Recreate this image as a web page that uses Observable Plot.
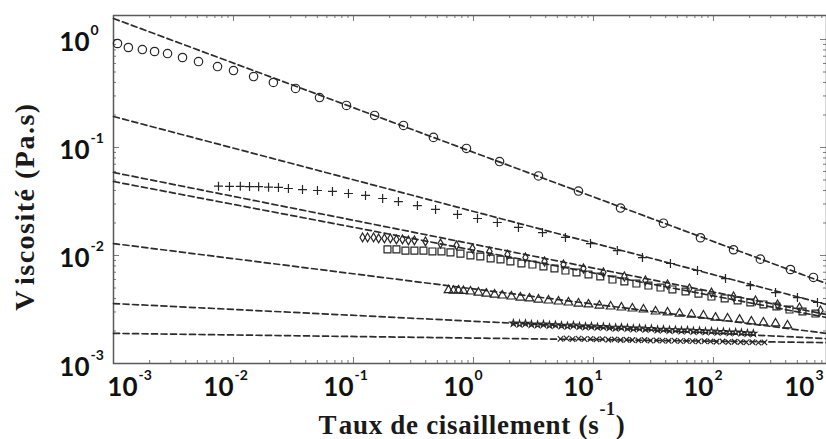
<!DOCTYPE html>
<html>
<head>
<meta charset="utf-8">
<script src="https://cdn.jsdelivr.net/npm/d3@7"></script>
<script src="https://cdn.jsdelivr.net/npm/@observablehq/plot@0.6"></script>
<style>
  html, body { margin: 0; padding: 0; background: #fff; }
</style>
</head>
<body>
<div id="chart"></div>
<script>
// Flow curves: shear rate (1/s) and viscosity (Pa.s) for each sample
const circleRate = [0.00108, 0.00133, 0.00174, 0.0022, 0.00282, 0.00376, 0.00511, 0.00736, 0.01, 0.0147, 0.0215, 0.0329, 0.0521, 0.0874, 0.15, 0.261, 0.464, 0.874, 1.65, 3.48, 7.5, 16.8, 38.3, 77.9, 147, 246, 438, 681];
const circleVisc = [0.918, 0.843, 0.807, 0.774, 0.741, 0.681, 0.625, 0.562, 0.516, 0.454, 0.4, 0.352, 0.29, 0.245, 0.198, 0.16, 0.124, 0.098, 0.0741, 0.0545, 0.0395, 0.0275, 0.0199, 0.0146, 0.0113, 0.00925, 0.00742, 0.00626];

const plusRate = [0.0075, 0.00926, 0.0114, 0.0136, 0.0162, 0.0196, 0.0237, 0.0287, 0.0376, 0.0501, 0.0668, 0.0908, 0.126, 0.175, 0.237, 0.341, 0.483, 0.736, 1.08, 1.58, 2.37, 3.76, 5.84, 9.44, 15.8, 25.6, 43.8, 73.6, 126, 203, 329, 501, 736];
const plusVisc = [0.0438, 0.0436, 0.0437, 0.0435, 0.0434, 0.0429, 0.0427, 0.0417, 0.0408, 0.04, 0.0392, 0.0375, 0.036, 0.0337, 0.0316, 0.029, 0.0267, 0.024, 0.022, 0.0202, 0.0182, 0.0163, 0.0147, 0.0129, 0.0111, 0.00957, 0.00843, 0.00726, 0.00612, 0.00527, 0.00454, 0.00408, 0.00367];

const diamondRate = [0.119, 0.131, 0.147, 0.162, 0.181, 0.203, 0.228, 0.256, 0.287, 0.322, 0.398, 0.531, 0.722, 0.981, 1.36, 1.92, 2.71, 3.91, 5.62, 8.25, 12.1, 18.1, 27.1, 41.4, 63.1, 96.2, 147, 224, 342, 521, 779];
const diamondVisc = [0.0147, 0.0147, 0.0147, 0.0144, 0.0144, 0.0144, 0.0141, 0.0141, 0.0138, 0.0138, 0.0135, 0.0129, 0.0124, 0.0116, 0.0109, 0.0102, 0.00958, 0.0088, 0.00825, 0.00758, 0.00696, 0.00639, 0.00587, 0.00539, 0.00495, 0.00454, 0.00417, 0.00383, 0.00352, 0.0033, 0.0031];

const squareRate = [0.192, 0.228, 0.271, 0.322, 0.383, 0.455, 0.541, 0.643, 0.779, 0.944, 1.14, 1.39, 1.68, 2.03, 2.51, 3.1, 3.83, 4.73, 5.84, 7.22, 9.09, 11.4, 14.4, 18.1, 22.8, 28.7, 36.2, 45.5, 58.5, 75, 96.2, 124, 159, 203, 261, 335, 430, 552, 708];
const squareVisc = [0.0114, 0.0114, 0.0111, 0.0111, 0.0111, 0.0109, 0.0109, 0.0107, 0.0104, 0.01, 0.00979, 0.00938, 0.00918, 0.0088, 0.00843, 0.00825, 0.00791, 0.00758, 0.00726, 0.00696, 0.00667, 0.00639, 0.00599, 0.00575, 0.0055, 0.00527, 0.00505, 0.00485, 0.00464, 0.00444, 0.00417, 0.004, 0.00383, 0.00367, 0.00352, 0.00337, 0.00316, 0.00303, 0.0029];

const triangleRate = [0.619, 0.681, 0.75, 0.825, 0.944, 1.1, 1.28, 1.5, 1.74, 2.07, 2.46, 2.93, 3.48, 4.22, 5.11, 6.19, 7.5, 9.09, 11.2, 13.9, 17.1, 21.1, 26.1, 32.9, 41.4, 52.1, 65.6, 82.5, 104, 131, 165, 207, 261, 329, 414];
const triangleVisc = [0.00478, 0.00472, 0.00476, 0.0047, 0.00464, 0.00454, 0.00444, 0.00435, 0.00426, 0.00417, 0.00408, 0.004, 0.00391, 0.00383, 0.00375, 0.00367, 0.00359, 0.00352, 0.00344, 0.00337, 0.0033, 0.00323, 0.00316, 0.00303, 0.00297, 0.0029, 0.00284, 0.00278, 0.00266, 0.00261, 0.00255, 0.00245, 0.0024, 0.00235, 0.00225];

const starRate = [2.15, 2.42, 2.71, 3.04, 3.42, 3.83, 4.3, 4.82, 5.41, 6.07, 6.81, 7.65, 8.58, 9.62, 10.8, 12.1, 13.6, 15.3, 17.1, 19.2, 21.5, 24.2, 27.1, 30.4, 34.2, 38.3, 43, 48.2, 54.1, 60.7, 68.1, 76.5, 85.8, 96.2, 108, 121, 136, 153, 171, 192, 215];
const starVisc = [0.00236, 0.00233, 0.00235, 0.00231, 0.00229, 0.00231, 0.00227, 0.00228, 0.00225, 0.00223, 0.00226, 0.00222, 0.0022, 0.00221, 0.00218, 0.00219, 0.00216, 0.00214, 0.00216, 0.00213, 0.00211, 0.00212, 0.00209, 0.0021, 0.00206, 0.00207, 0.00204, 0.00205, 0.00202, 0.00203, 0.002, 0.00201, 0.00198, 0.00199, 0.00196, 0.00197, 0.00194, 0.00195, 0.00193, 0.00191, 0.0019];

const crossRate = [5.31, 5.96, 6.68, 7.5, 8.41, 9.44, 10.6, 11.9, 13.3, 15, 16.8, 18.8, 21.1, 23.7, 26.6, 29.9, 33.5, 37.6, 42.2, 47.3, 53.1, 59.6, 66.8, 75, 84.1, 94.4, 106, 119, 133, 150, 168, 188, 211, 237, 266];
const crossVisc = [0.00169, 0.00171, 0.00168, 0.0017, 0.00168, 0.00169, 0.00167, 0.00168, 0.00166, 0.00167, 0.00165, 0.00166, 0.00165, 0.00164, 0.00165, 0.00163, 0.00164, 0.00163, 0.00162, 0.00163, 0.00161, 0.00162, 0.00161, 0.0016, 0.00161, 0.0016, 0.00159, 0.0016, 0.00158, 0.00159, 0.00158, 0.00157, 0.00158, 0.00156, 0.00157];

// Power-law fits: viscosity at both ends of the shear-rate range
const fitRange = [0.001, 875];
const fitStartVisc = [1.565, 0.1936, 0.0587, 0.0484, 0.0129, 0.00359, 0.0019];
const fitEndVisc = [0.0055, 0.00352, 0.00284, 0.00267, 0.0019, 0.0017, 0.00156];

// Axis decades (tick labels are 10 raised to these exponents)
const xExponents = [-3, -2, -1, 0, 1, 2, 3];
const yExponents = [-3, -2, -1, 0];
const yTop = 1.668;

const xTitleParts = ["Taux de cisaillement (s", "-1", ")"];
const yTitle = "Viscosité (Pa.s)";

// ---------------------------------------------------------------
const pairs = (rate, visc) => rate.map((r, i) => ({rate: r, visc: visc[i]}));

const fits = fitStartVisc.flatMap((v, i) => [
  {id: i, rate: fitRange[0], visc: v},
  {id: i, rate: fitRange[1], visc: fitEndVisc[i]}
]);

const xMajor = [];
const xMinor = [];
for (const e of xExponents) {
  const base = 10 ** e;
  if (base <= fitRange[1]) xMajor.push(base);
  for (let k = 2; k <= 9; k++) if (k * base <= fitRange[1]) xMinor.push(k * base);
}
const yMajor = [];
const yMinor = [];
for (const e of yExponents) {
  const base = 10 ** e;
  yMajor.push(base);
  for (let k = 2; k <= 9; k++) if (k * base <= yTop) yMinor.push(k * base);
}

const W = 826, H = 439, ML = 113, MR = 0, MT = 15, MB = 76;
const frameW = W - ML - MR, frameH = H - MT - MB;

const ink = "#262626";
const tickInk = "#7a7a7a";
const labelFont = "Lato, 'Open Sans', sans-serif";
const titleFont = "'Liberation Serif', 'DejaVu Serif', serif";

const markerStyle = {x: "rate", y: "visc", fill: "none", stroke: ink, strokeWidth: 1.2};

// "10" with a raised exponent, anchored on an x tick
function xTickLabel(exps, dx) {
  return [
    Plot.text(exps, {x: e => 10 ** e, text: () => "10", frameAnchor: "bottom", lineAnchor: "bottom",
      textAnchor: "end", dx, dy: 32, fontSize: 26, fontWeight: "bold", fontFamily: labelFont, fill: "#111"}),
    Plot.text(exps, {x: e => 10 ** e, text: e => String(e), frameAnchor: "bottom", lineAnchor: "bottom",
      textAnchor: "start", dx: dx + 1, dy: 16, fontSize: 14, fontWeight: "bold", fontFamily: labelFont, fill: "#111"})
  ];
}

const chart = Plot.plot({
  width: W,
  height: H,
  marginLeft: ML,
  marginRight: MR,
  marginTop: MT,
  marginBottom: MB,
  x: {type: "log", domain: fitRange, axis: null},
  y: {type: "log", domain: [1e-3, yTop], axis: null},
  marks: [
    // inward ticks on all four sides
    Plot.ruleX(xMinor, {x: d => d, insetTop: frameH - 3, stroke: tickInk}),
    Plot.ruleX(xMinor, {x: d => d, insetBottom: frameH - 3, stroke: tickInk}),
    Plot.ruleX(xMajor, {x: d => d, insetTop: frameH - 6, stroke: tickInk}),
    Plot.ruleX(xMajor, {x: d => d, insetBottom: frameH - 6, stroke: tickInk}),
    Plot.ruleY(yMinor, {y: d => d, insetRight: frameW - 3, stroke: tickInk}),
    Plot.ruleY(yMinor, {y: d => d, insetLeft: frameW - 3, stroke: tickInk}),
    Plot.ruleY(yMajor, {y: d => d, insetRight: frameW - 6, stroke: tickInk}),
    Plot.ruleY(yMajor, {y: d => d, insetLeft: frameW - 6, stroke: tickInk}),
    Plot.frame({stroke: "#5a5a5a", strokeWidth: 1.5}),

    // fitted power laws
    Plot.line(fits, {x: "rate", y: "visc", z: "id", stroke: "#2c2c2c", strokeWidth: 1.7, strokeDasharray: "6,3.5"}),

    // measured flow curves
    Plot.dot(pairs(circleRate, circleVisc), {...markerStyle, symbol: "circle", r: 4.2}),
    Plot.dot(pairs(plusRate, plusVisc), {...markerStyle, symbol: "plus", r: 3}),
    Plot.dot(pairs(diamondRate, diamondVisc), {...markerStyle, symbol: "diamond", r: 2.7}),
    Plot.dot(pairs(squareRate, squareVisc), {...markerStyle, symbol: "square", r: 3.9}),
    Plot.dot(pairs(triangleRate, triangleVisc), {...markerStyle, symbol: "triangle", r: 3.2}),
    Plot.dot(pairs(starRate, starVisc), {...markerStyle, symbol: "star", r: 2.1}),
    Plot.dot(pairs(crossRate, crossVisc), {...markerStyle, symbol: "times", r: 2.6}),

    // x tick labels (the outer two are nudged inside the figure)
    ...xTickLabel(xExponents.filter(e => e === -3), 24),
    ...xTickLabel(xExponents.filter(e => e > -3 && e < 3), 0),
    ...xTickLabel(xExponents.filter(e => e === 3), -19),

    // y tick labels
    Plot.text(yExponents, {y: e => 10 ** e, text: () => "10", frameAnchor: "left", lineAnchor: "bottom",
      textAnchor: "end", dx: -24, dy: 12, fontSize: 26, fontWeight: "bold", fontFamily: labelFont, fill: "#111"}),
    Plot.text(yExponents, {y: e => 10 ** e, text: e => String(e), frameAnchor: "left", lineAnchor: "bottom",
      textAnchor: "start", dx: -23, dy: -4, fontSize: 14, fontWeight: "bold", fontFamily: labelFont, fill: "#111"}),

    // axis titles
    Plot.text([xTitleParts.join("")], {frameAnchor: "bottom", lineAnchor: "bottom", textAnchor: "middle",
      dy: 70, dx: 2, fontSize: 27, fontWeight: "bold", fontFamily: titleFont, fill: "#1a1a1a"}),
    Plot.text([yTitle], {frameAnchor: "left", lineAnchor: "bottom", textAnchor: "middle", rotate: -90,
      dx: -80, dy: 17, fontSize: 28, fontWeight: "bold", fontFamily: titleFont, fill: "#1a1a1a"})
  ]
});

// x title: loose "T", superscript unit exponent, slightly wider tracking
d3.select(chart).selectAll("text")
  .filter(function () { return this.textContent === xTitleParts.join(""); })
  .each(function () {
    const t = d3.select(this).text(null).attr("letter-spacing", "0.7px");
    t.append("tspan").text(xTitleParts[0].slice(0, 1));
    t.append("tspan").attr("dx", 4).text(xTitleParts[0].slice(1));
    t.append("tspan").attr("font-size", 18).attr("dy", -19).text(xTitleParts[1]);
    t.append("tspan").attr("dy", 19).text(xTitleParts[2]);
  });

// y title: loose "V" and wide tracking
d3.select(chart).selectAll("text")
  .filter(function () { return this.textContent === yTitle; })
  .each(function () {
    const t = d3.select(this).text(null).attr("letter-spacing", "1.5px");
    t.append("tspan").text(yTitle.slice(0, 1));
    t.append("tspan").attr("dx", 5).text(yTitle.slice(1));
  });

document.getElementById("chart").appendChild(chart);
</script>
</body>
</html>
